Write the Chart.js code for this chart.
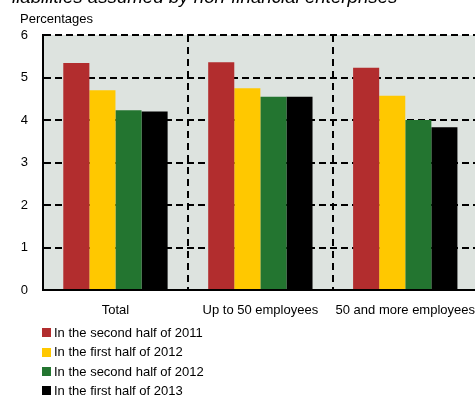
<!DOCTYPE html>
<html>
<head>
<meta charset="utf-8">
<script src="https://cdn.jsdelivr.net/npm/chart.js@4.4.1/dist/chart.umd.min.js"></script>
<style>
  html, body { margin:0; padding:0; background:#fff; overflow:hidden; width:475px; height:397px; }
  #wrap { position:relative; width:490px; height:397px; font-family:"Liberation Sans", Arial, sans-serif; }
  #title { position:absolute; left:12px; top:-14px; font-size:18.7px; font-style:italic; color:#000; white-space:nowrap; }
  #unit { position:absolute; left:20px; top:11px; font-size:13px; color:#000; }
  #legend { position:absolute; left:42px; top:323px; font-size:13px; color:#000; }
  #legend .row { height:19.4px; line-height:19.4px; display:flex; align-items:center; white-space:nowrap; }
  #legend .sw { width:9px; height:9px; margin-right:3px; flex:none; }
  canvas { position:absolute; left:0; top:0; }
</style>
</head>
<body>
<div id="wrap">
  <canvas id="c" width="490" height="397" style="width:490px;height:397px"></canvas>
  <div id="title">liabilities assumed by non-financial enterprises</div>
  <div id="unit">Percentages</div>
  <div id="legend"></div>
</div>
<script>
const categories = ["Total", "Up to 50 employees", "50 and more employees"];
const seriesNames = ["In the second half of 2011", "In the first half of 2012", "In the second half of 2012", "In the first half of 2013"];
const h2_2011 = [5.34, 5.36, 5.23];
const h1_2012 = [4.70, 4.75, 4.57];
const h2_2012 = [4.23, 4.55, 4.00];
const h1_2013 = [4.20, 4.55, 3.83];
const yTicks = [0, 1, 2, 3, 4, 5, 6];
const colors = ["#B22D2E", "#FFC800", "#237530", "#000000"];

const values = [h2_2011, h1_2012, h2_2012, h1_2013];
const datasets = seriesNames.map((n, i) => ({
  label: n, data: values[i], backgroundColor: colors[i],
  borderWidth: 0, categoryPercentage: 0.72, barPercentage: 1.0
}));

const legend = document.getElementById('legend');
seriesNames.forEach((n, i) => {
  const r = document.createElement('div'); r.className = 'row';
  const s = document.createElement('span'); s.className = 'sw'; s.style.background = colors[i];
  const t = document.createElement('span'); t.textContent = n;
  r.appendChild(s); r.appendChild(t); legend.appendChild(r);
});

const bgPlugin = {
  id: 'bg',
  beforeDraw(chart) {
    const a = chart.chartArea, ctx = chart.ctx;
    ctx.save(); ctx.fillStyle = '#DDE3DF';
    ctx.fillRect(a.left, a.top, a.right - a.left, a.bottom - a.top);
    ctx.restore();
  }
};

new Chart(document.getElementById('c'), {
  type: 'bar',
  data: { labels: categories, datasets },
  plugins: [bgPlugin],
  options: {
    responsive: false, animation: false,
    layout: { autoPadding: false, padding: { left: 0, top: 35, right: 12, bottom: 77 } },
    plugins: { legend: { display: false }, tooltip: { enabled: false }, title: { display: false } },
    scales: {
      x: {
        grid: { offset: true, color: '#000', lineWidth: 2, drawTicks: false },
        border: { display: true, color: '#000', width: 2, dash: [7, 5] },
        ticks: { color: '#000', padding: 13, font: { family: 'Liberation Sans', size: 13 }, maxRotation: 0, autoSkip: false },
        afterFit(s) { s.height = 30; }
      },
      y: {
        min: 0, max: 6,
        afterBuildTicks(s) { s.ticks = yTicks.map(v => ({ value: v })); },
        grid: { color: '#000', lineWidth: 2, drawTicks: false },
        border: { display: true, color: '#000', width: 2, dash: [7, 4] },
        ticks: { color: '#000', padding: 15, font: { family: 'Liberation Sans', size: 13 } },
        afterFit(s) { s.width = 43; }
      }
    }
  }
});
</script>
</body>
</html>
